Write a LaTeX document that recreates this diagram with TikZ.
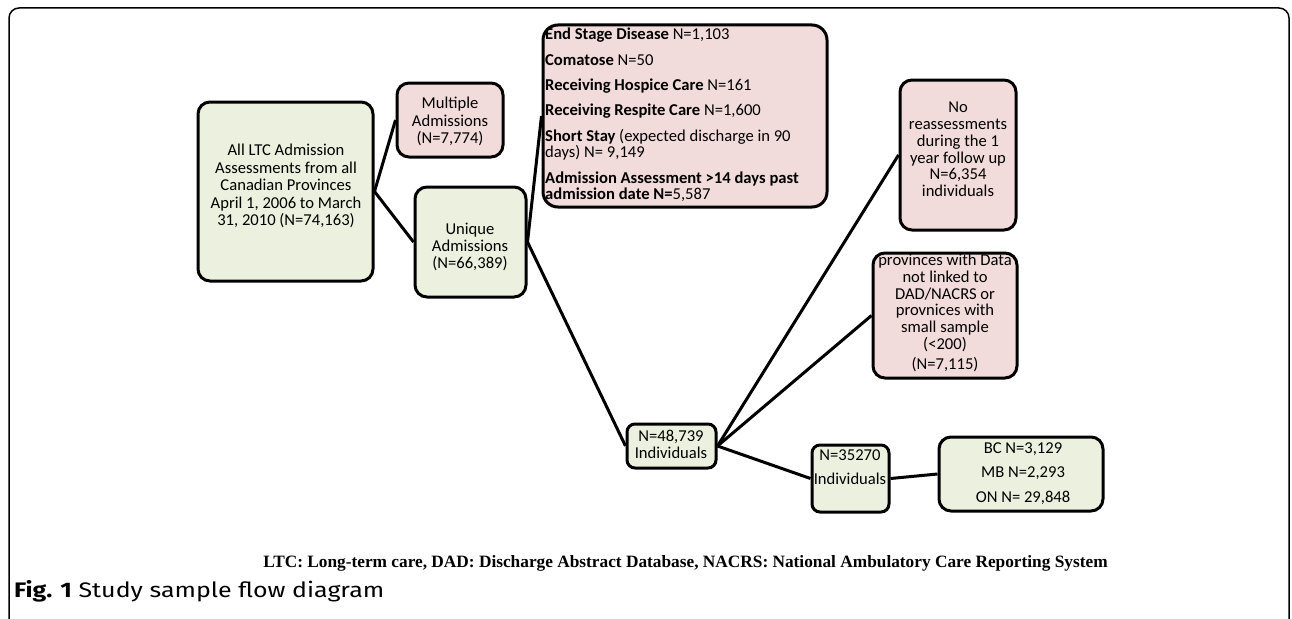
\documentclass[tikz,border=0pt]{standalone}
\usepackage{fontspec}
\setmainfont{Carlito}
\newfontfamily\capserif{Liberation Serif}
\newfontfamily\figfont{Fira Sans}
\definecolor{boxgreen}{RGB}{235,241,222}
\definecolor{boxpink}{RGB}{242,220,219}
\begin{document}
\begin{tikzpicture}[x=1pt,y=-1pt]
\tikzset{
 box/.style={draw=black, line width=3pt, rounded corners=12pt, inner sep=0pt},
 gbox/.style={box, fill=boxgreen},
 pbox/.style={box, fill=boxpink},
 txt/.style={font=\fontsize{16.6}{16.8}\selectfont, align=center, inner sep=0pt},
 wtxt/.style={txt, font=\fontsize{16.6}{17.5}\selectfont},
 link/.style={line width=3pt},
}
\useasboundingbox (0,0) rectangle (1292,618);
\draw[line width=1.5pt, rounded corners=10pt] (9,630) -- (9,8) -- (1289,8) -- (1289,630);

\node[gbox, minimum width=175pt, minimum height=179pt] (boxA) at (285.5,191.5) {};
\node[pbox, minimum width=106pt, minimum height=74pt] (boxB) at (450,120) {};
\node[gbox, minimum width=111pt, minimum height=110pt] (boxC) at (470.5,242) {};
\node[pbox, minimum width=284pt, minimum height=182pt, rounded corners=15pt] (boxD) at (685,116) {};
\node[pbox, minimum width=116pt, minimum height=150pt] (boxE) at (958,155) {};
\node[pbox, minimum width=144pt, minimum height=125pt] (boxF) at (945,315.5) {};
\node[gbox, minimum width=89pt, minimum height=44pt, rounded corners=8pt] (boxG) at (671.5,446) {};
\node[gbox, minimum width=77pt, minimum height=67pt, rounded corners=8pt] (boxH) at (850.5,478.5) {};
\node[gbox, minimum width=164pt, minimum height=74pt] (boxI) at (1021,474) {};

\node[wtxt] (tA) at (286,186) {All LTC Admission\\Assessments from all\\Canadian Provinces\\April 1, 2006 to March\\31, 2010 (N=74,163)};
\node[wtxt] (tB) at (450,121.5) {Multiple\\Admissions\\(N=7,774)};
\node[txt] (tC) at (470,247) {Unique\\Admissions\\(N=66,389)};
\node[txt, align=left, anchor=north west] (tD) at (545,28) {\textbf{End Stage Disease} N=1,103\\[8.5pt]
\textbf{Comatose} N=50\\[8.5pt]
\textbf{Receiving Hospice Care} N=161\\[8.5pt]
\textbf{Receiving Respite Care} N=1,600\\[8.5pt]
\textbf{Short Stay} (expected discharge in 90\\days) N= 9,149\\[8.5pt]
\textbf{Admission Assessment >14 days past}\\\textbf{admission date N=}5,587};
\node[txt] (tE) at (958,149.5) {No\\reassessments\\during the 1\\year follow up\\N=6,354\\individuals};
\node[txt] (tF) at (945,313) {provinces with Data\\not linked to\\DAD/NACRS or\\provnices with\\small sample\\(<200)\\[3.5pt](N=7,115)};
\node[txt] (tG) at (671,444) {N=48,739\\Individuals};
\node[txt] (tH) at (850,467) {N=35270\\[7.5pt]Individuals};
\node[txt] (tI) at (1023,473.5) {BC N=3,129\\[8pt]MB N=2,293\\[8pt]ON N= 29,848};

\draw[link] (boxA.east) -- (boxB.west);
\draw[link] (boxA.east) -- (boxC.west);
\draw[link] (boxC.east) -- (boxD.west);
\draw[link] (boxC.east) -- (boxG.west);
\draw[link] (boxG.east) -- (boxE.west);
\draw[link] (boxG.east) -- (boxF.west);
\draw[link] (boxG.east) -- (boxH.west);
\draw[link] (boxH.east) -- (boxI.west);

\node[font=\capserif\bfseries\fontsize{17.3}{20}\selectfont, inner sep=0pt] (note) at (685.5,563) {LTC: Long-term care, DAD: Discharge Abstract Database, NACRS: National Ambulatory Care Reporting System};
\node[anchor=west, font=\figfont\fontsize{21}{24}\selectfont, inner sep=0pt] (fig) at (14,591) {\scalebox{1.19}[1]{\textbf{Fig. 1} Study sample flow diagram}};
\end{tikzpicture}
\end{document}
